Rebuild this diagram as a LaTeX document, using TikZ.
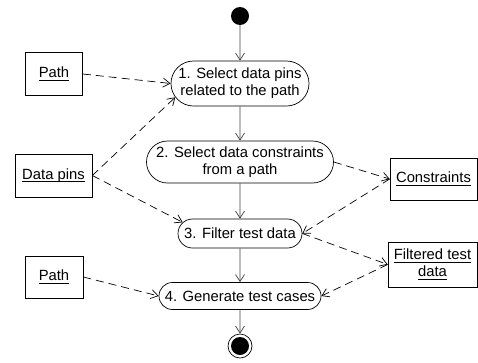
\documentclass[tikz,border=0pt]{standalone}
\usepackage{amsmath}
\usepackage{fontspec}
\setmainfont{Liberation Sans}
\usetikzlibrary{arrows.meta,shapes.misc}
\newcommand{\ulabel}[1]{\underline{\smash[b]{#1}}}

\begin{document}
\begin{tikzpicture}[x=1pt,y=-1pt,
	action/.style={rounded rectangle,draw,line width=0.7pt,align=center,inner sep=1pt,font=\fontsize{14.8}{17}\selectfont},
	object/.style={rectangle,draw,line width=0.7pt,align=center,inner sep=1pt,font=\fontsize{14.8}{17}\selectfont},
	flow/.style={-{Straight Barb[length=7pt,width=9pt]},line width=0.7pt,draw=black!75},
	dataflow/.style={flow,draw=black,dash pattern=on 8pt off 5pt}]
	\useasboundingbox (0,0) rectangle (478,362);
	
	\node[circle,fill=black,inner sep=0pt,minimum size=18pt] (start) at (240,16) {};
	\node[action,minimum width=140pt,minimum height=45pt] (a1) at (240,83.5) {1. Select data pins\\related to the path};
	\node[action,minimum width=189pt,minimum height=42pt] (a2) at (240,162) {2. Select data constraints\\from a path};
	\node[action,minimum width=126pt,minimum height=29pt] (a3) at (240,233.5) {3. Filter test data};
	\node[action,minimum width=164pt,minimum height=27pt] (a4) at (240,296) {4. Generate test cases};
	\node[circle,draw,line width=0.7pt,inner sep=0pt,minimum size=24pt] (end) at (240,346) {};
	\fill (end.center) circle (9pt);
	
	\node[object,minimum width=57pt,minimum height=43pt] (path1) at (54,74) {\ulabel{Path}};
	\node[object,minimum width=77pt,minimum height=43pt] (pins) at (53.5,175.5) {\ulabel{Data pins}};
	\node[object,minimum width=58pt,minimum height=42pt] (path2) at (54,277) {\ulabel{Path}};
	\node[object,minimum width=87pt,minimum height=42pt] (constr) at (433.5,179) {\ulabel{Constraints}};
	\node[object,minimum width=89pt,minimum height=45pt] (filtered) at (432.5,264.5) {\ulabel{Filtered test}\\\ulabel{data}};
	
	\draw[flow] (start) -- (a1);
	\draw[flow] (a1) -- (a2);
	\draw[flow] (a2) -- (a3);
	\draw[flow] (a3) -- (a4);
	\draw[flow] (a4) -- (end);
	
	\draw[dataflow] (path1.east) -- (a1.west);
	\draw[dataflow] (pins.east) -- (a1.192);
	\draw[dataflow] (pins.east) -- (a3.169);
	\draw[dataflow] (a2.east) -- (constr.west);
	\draw[dataflow] (constr.west) -- (a3.east);
	\draw[dataflow] (a3.east) -- (filtered.west);
	\draw[dataflow] (filtered.west) -- (a4.east);
	\draw[dataflow] (path2.east) -- (a4.west);
\end{tikzpicture}
\end{document}
